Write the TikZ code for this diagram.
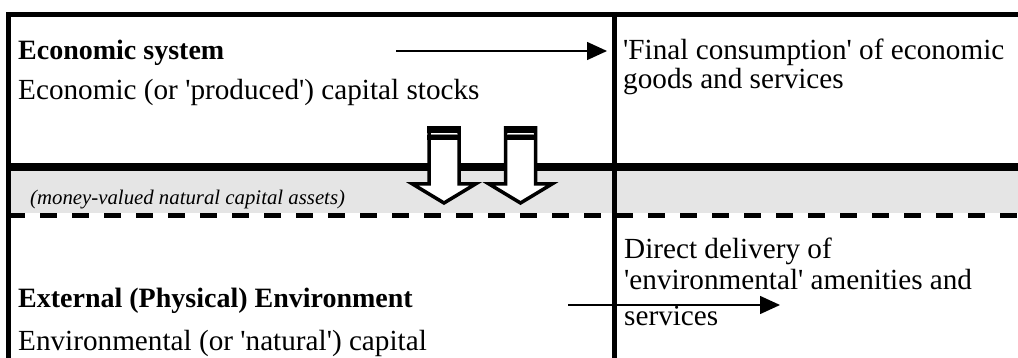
\documentclass[tikz,border=0pt]{standalone}
\usepackage{fontspec}
\setmainfont{Liberation Serif}
\usetikzlibrary{arrows.meta}
\newcommand{\sq}{\textquotesingle}
\def\flowarrow(#1){%
	\draw[line width=3.5pt, fill=white, line join=miter] ({#1-15},128) -- ({#1-15},184) -- ({#1-31.5},184) -- (#1,203) -- ({#1+31.5},184) -- ({#1+15},184) -- ({#1+15},128) -- cycle;
	\fill ({#1-16.75},126) rectangle ({#1+16.75},133);
	\draw[line width=1.2pt, color=black!45] ({#1-13.25},134.6) -- ({#1+13.25},134.6);
	\fill ({#1-16.75},135.5) rectangle ({#1+16.75},140);
}
\tikzset{
	txt/.style={anchor=base west, inner sep=0pt, font=\fontsize{29.2}{33}\selectfont},
	head/.style={txt, font=\fontsize{28}{33}\selectfont\bfseries},
	note/.style={anchor=base west, inner sep=0pt, font=\fontsize{20.8}{24}\selectfont\itshape},
	flow/.style={line width=1.5pt, -{Triangle[length=20pt, width=18pt]}},
}
\begin{document}
\begin{tikzpicture}[x=1pt, y=-1pt]
			%%%%% START %%%%%
			\useasboundingbox (0, 0) rectangle (1018, 358);
			
			\fill[black!10] (11, 171) rectangle (1018, 213);
			\draw[line width=5pt, dash pattern=on 17pt off 15pt] (8, 215.5) -- (1018, 215.5);
			\draw[line width=8pt] (6, 167) -- (1018, 167);
			
			\draw[line width=5pt] (8.5, 358) -- (8.5, 12) (6, 14.5) -- (1018, 14.5);
			\draw[line width=4.5pt] (614.5, 12) -- (614.5, 358);
			
			\flowarrow(444)
			\flowarrow(520.5)
			
			\node[head] (econ) at (18, 60) {Economic system};
			\node[txt] (econcap) at (18, 100) {Economic (or \sq produced\sq) capital stocks};
			\node[txt] (final1) at (623, 60) {\sq Final consumption\sq{} of economic};
			\node[txt] (final2) at (623, 89) {goods and services};
			
			\node[note] (money) at (30, 205) {(money-valued natural capital assets)};
			
			\node[head] (ext) at (18, 308) {External (Physical) Environment};
			\node[txt] (envcap) at (18, 350) {Environmental (or \sq natural\sq) capital};
			\node[txt] (direct1) at (624, 259) {Direct delivery of};
			\node[txt] (direct2) at (624, 290) {\sq environmental\sq{} amenities and};
			\node[txt] (direct3) at (624, 325) {services};
			
			\coordinate (a1s) at (396, 51);
			\coordinate (a1e) at (607, 51);
			\coordinate (a2s) at (568, 305);
			\coordinate (a2e) at (780, 305);
			\draw[flow] (a1s) -- (a1e);
			\draw[flow] (a2s) -- (a2e);
			%%%%% END %%%%%
\end{tikzpicture}
\end{document}
